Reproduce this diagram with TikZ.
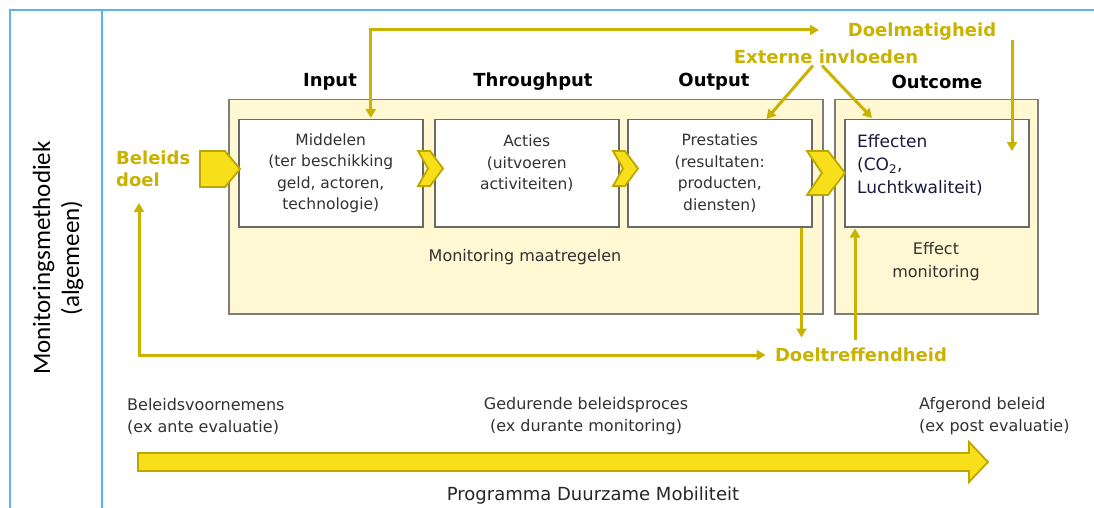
\documentclass[tikz,border=0pt]{standalone}
\usepackage{fontspec}
\setmainfont{DejaVu Sans}
\newfontfamily\carl{Carlito}
\usetikzlibrary{arrows.meta,calc}
\definecolor{olivey}{RGB}{201,178,0}
\definecolor{yfill}{RGB}{247,224,26}
\definecolor{yedge}{RGB}{190,166,0}
\definecolor{panelfill}{RGB}{255,248,210}
\definecolor{panelgray}{RGB}{125,125,125}
\definecolor{boxgray}{RGB}{105,105,105}
\definecolor{textgray}{RGB}{50,50,50}
\definecolor{navy}{RGB}{25,25,60}
\definecolor{frameblue}{RGB}{88,182,234}
\begin{document}
\begin{tikzpicture}[x=1pt,y=-1pt,
  >={Triangle[length=9pt,width=10pt]},
  panel/.style={draw=panelgray, fill=panelfill, line width=1.5pt, anchor=north west, inner sep=0pt},
  box/.style={draw=boxgray, fill=white, line width=1.5pt, anchor=north west, minimum width=184pt, minimum height=107pt, inner sep=0pt, align=center, text=textgray, font=\fontsize{15.5}{21.5}\selectfont},
  head/.style={font=\fontsize{18}{22}\selectfont\bfseries, text=black},
  ylab/.style={font=\fontsize{18}{22}\selectfont\bfseries, text=olivey},
  plain/.style={font=\fontsize{16}{22}\selectfont, text=textgray},
  conn/.style={draw=olivey, line width=3pt},
  yshape/.style={fill=yfill, draw=yedge, line width=1.8pt, line join=miter},
  frame/.style={draw=frameblue, line width=2.4pt}
]
\useasboundingbox (0,0) rectangle (1094,508);

% blue frame
\draw[frame] (1094,10) -- (10,10) -- (10,508);
\draw[frame] (102,10) -- (102,508);

\node[rotate=90, align=center, font=\carl\fontsize{25}{29}\selectfont] (meth) at (58,258) {Monitoringsmethodiek\\(algemeen)};

% panels
\node[panel, minimum width=594pt, minimum height=214pt] (mm) at (228,99) {};
\node[panel, minimum width=203pt, minimum height=214pt] (oc) at (834,99) {};

% inner boxes
\node[box] (mid) at (238,119) {Middelen\\(ter beschikking\\geld, actoren,\\technologie)};
\node[box] (act) at (434,119) {Acties\\(uitvoeren\\activiteiten)\\\mbox{}};
\node[box] (pres) at (627,119) {Prestaties\\(resultaten:\\producten,\\diensten)};
\node[box] (eff) at (844,119) {};
\node[anchor=west, align=left, text=navy, inner sep=0pt, font=\fontsize{17}{23}\selectfont] (efftxt) at (857,165) {Effecten\\(CO\textsubscript{2},\\Luchtkwaliteit)};

% panel captions
\node[plain] (mmtxt) at (525,257) {Monitoring maatregelen};
\node[plain, align=center, font=\fontsize{16}{23}\selectfont] (octxt) at (936,262) {Effect\\monitoring};

% headers
\node[head] (hin) at (330,82) {Input};
\node[head] (hth) at (533,82) {Throughput};
\node[head] (hout) at (714,82) {Output};
\node[head] (hoc) at (937,82) {Outcome};

% yellow labels
\node[ylab] (doelm) at (922,32) {Doelmatigheid};
\node[ylab] (ext) at (826,57) {Externe invloeden};
\node[ylab] (doeltr) at (861,355) {Doeltreffendheid};
\node[ylab, anchor=west, align=left, inner sep=0pt] (bd) at (116,169) {Beleids\\doel};

% pentagon and chevrons
\draw[yshape] (200,151) -- (225,151) -- (240,169) -- (225,187) -- (200,187) -- cycle;
\draw[yshape] (418,151) -- (430,151) -- (443,168.5) -- (430,186) -- (418,186) -- (428,168.5) -- cycle;
\draw[yshape] (613,151) -- (625,151) -- (638,168.5) -- (625,186) -- (613,186) -- (623,168.5) -- cycle;
\draw[yshape] (807,151) -- (828,151) -- (845,173) -- (828,195) -- (807,195) -- (822,173) -- cycle;

% connectors
\coordinate (topL) at ($(mid.north)+(40,-89)$);
\draw[conn,<->] ($(mid.north)+(40,-1)$) -- (topL) -- (topL -| 819,0);
\coordinate (dmtop) at (1012,40);
\draw[conn,->] (dmtop) -- (dmtop |- 0,151);
\draw[conn,->] ($(ext.south)+(-13,-2)$) -- ($(pres.north east)+(-46,0)$);
\draw[conn,->] ($(ext.south)+(-4,-2)$) -- ($(eff.north west)+(28,-1)$);
\draw[conn,->] ($(pres.south east)+(-11,0)$) -- ($(pres.south east)+(-11,110)$);
\draw[conn,->] ($(eff.south west)+(11,112)$) -- ($(eff.south west)+(11,1)$);
\coordinate (bdtip) at (139,203);
\draw[conn,<->] (bdtip) |- ($(doeltr.west)+(-6,0)$);

% timeline
\node[plain, anchor=west, align=left, inner sep=0pt] (ante) at (127,416) {Beleidsvoornemens\\(ex ante evaluatie)};
\node[plain, align=center, inner sep=0pt] (durante) at (586,416) {Gedurende beleidsproces\\(ex durante monitoring)};
\node[plain, anchor=west, align=left, inner sep=0pt] (post) at (919,416) {Afgerond beleid\\(ex post evaluatie)};
\draw[yshape] (138,453) -- (969,453) -- (969,442) -- (988,462) -- (969,482) -- (969,471) -- (138,471) -- cycle;
\node[font=\fontsize{18}{22}\selectfont, text=black!85] (prog) at (593,496) {Programma Duurzame Mobiliteit};
\end{tikzpicture}
\end{document}
